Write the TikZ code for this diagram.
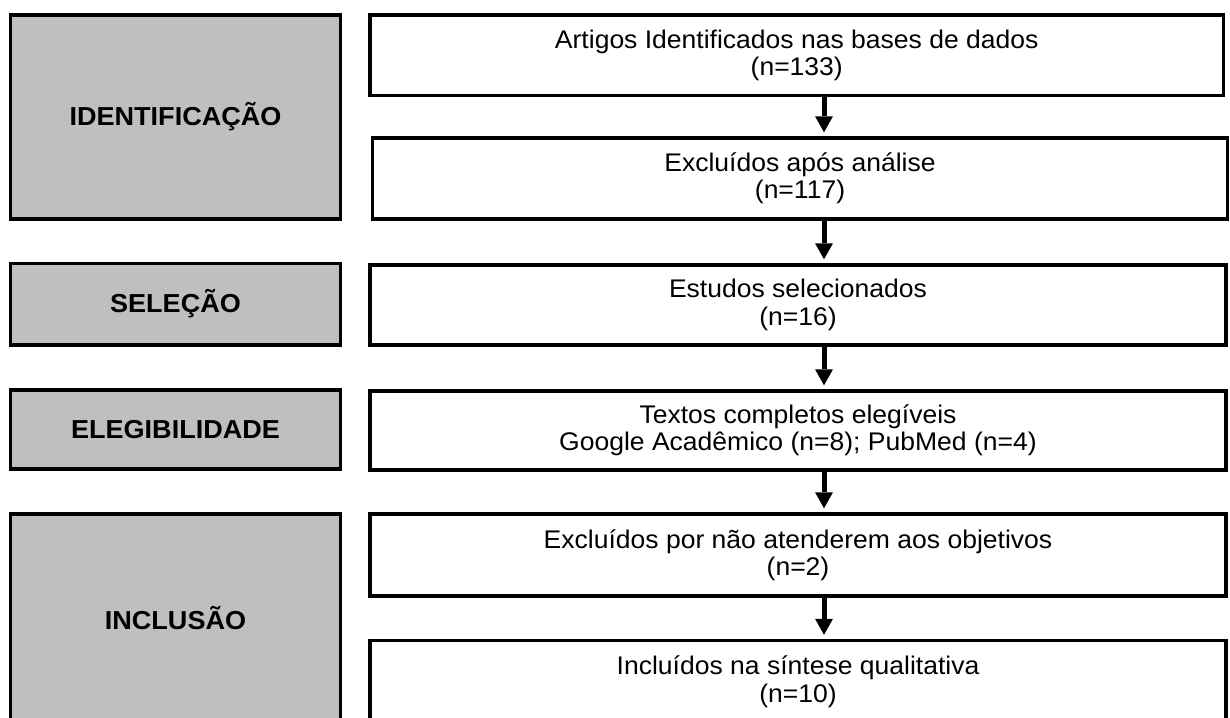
\documentclass[tikz,border=0pt]{standalone}
\usepackage{fontspec}
\setmainfont{Liberation Sans}[FakeStretch=1.04]
\usetikzlibrary{arrows.meta}
\definecolor{boxgray}{RGB}{191,191,191}
\begin{document}
\begin{tikzpicture}[x=1pt,y=-1pt,
  stage/.style={draw=black,line width=3.5pt,fill=boxgray,inner sep=0pt,align=center,
    font=\bfseries\fontsize{26}{27.3}\selectfont},
  stepbox/.style={draw=black,line width=3.5pt,fill=white,inner sep=0pt,align=center,
    font=\fontsize{25.5}{27.3}\selectfont},
  arr/.style={line width=5pt,-{Triangle[width=18pt,length=16pt,line width=0pt]},shorten >=4pt}]
\useasboundingbox (0,0) rectangle (1230,717);
\clip (0,0) rectangle (1230,717);
\fill[white] (0,0) rectangle (1230,717);
% stage boxes (left)
\node[stage,minimum width=330pt,minimum height=204pt] (id) at (175.5,117) {IDENTIFICAÇÃO};
\node[stage,minimum width=330pt,minimum height=81.5pt] (sel) at (175.5,304) {SELEÇÃO};
\node[stage,minimum width=330pt,minimum height=79pt] (ele) at (175.5,429.5) {ELEGIBILIDADE};
\node[stage,minimum width=330pt,minimum height=208pt] (inc) at (175.5,618) {INCLUSÃO};
% flow boxes (right)
\node[stepbox,minimum width=853.5pt,minimum height=80.5pt] (b1) at (796.75,55.25)
  {Artigos Identificados nas bases de dados\\(n=133)};
\node[stepbox,minimum width=855pt,minimum height=81pt] (b2) at (800,178.5)
  {Excluídos após análise\\(n=117)};
\node[stepbox,minimum width=856pt,minimum height=80pt] (b3) at (798,305)
  {Estudos selecionados\\(n=16)};
\node[stepbox,minimum width=856pt,minimum height=79pt] (b4) at (798,430.5)
  {Textos completos elegíveis\\Google Acadêmico (n=8); PubMed (n=4)};
\node[stepbox,minimum width=856pt,minimum height=82pt] (b5) at (798,555)
  {Excluídos por não atenderem aos objetivos\\(n=2)};
\node[stepbox,minimum width=856pt,minimum height=82.5pt] (b6) at (798,681.75)
  {Incluídos na síntese qualitativa\\(n=10)};
% arrows
\coordinate (ax) at (824,0);
\draw[arr] (b1.south -| ax) -- (b2.north -| ax);
\draw[arr] (b2.south -| ax) -- (b3.north -| ax);
\draw[arr] (b3.south -| ax) -- (b4.north -| ax);
\draw[arr] (b4.south -| ax) -- (b5.north -| ax);
\draw[arr] (b5.south -| ax) -- (b6.north -| ax);
\end{tikzpicture}
\end{document}
